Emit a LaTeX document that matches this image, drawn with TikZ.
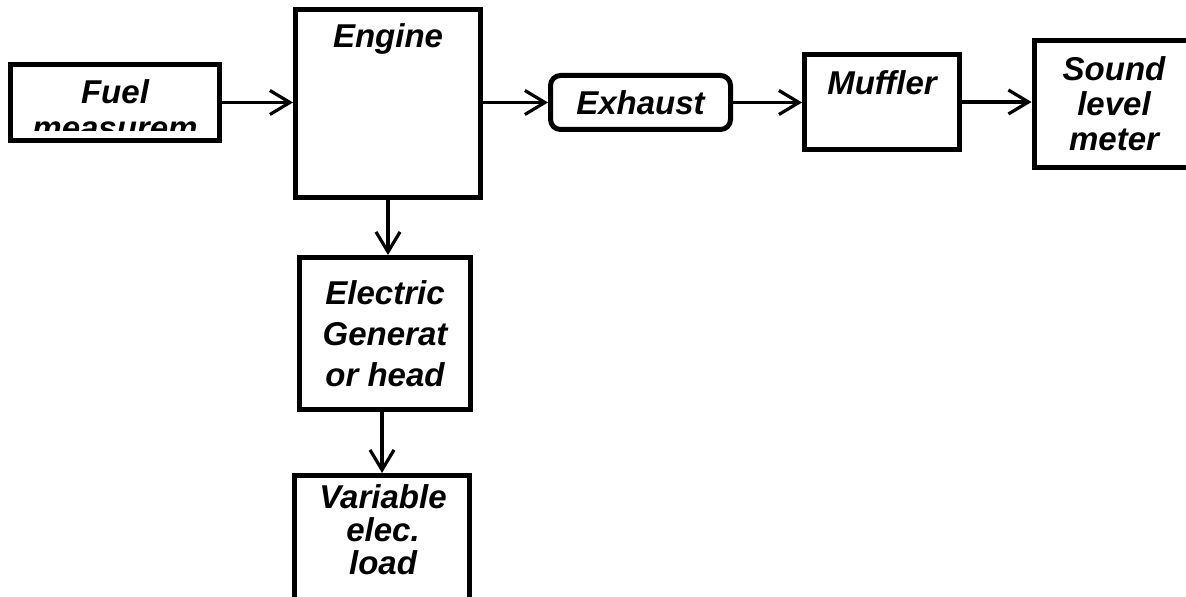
\documentclass[tikz,border=0pt]{standalone}
\usepackage{fontspec}
\setmainfont{Liberation Sans}
\usetikzlibrary{arrows.meta, positioning}

\tikzset{
  blockbox/.style={draw, line width=2.5pt, inner sep=0pt},
  roundbox/.style={blockbox, rounded corners=5pt},
  boxtext/.style={font=\bfseries\itshape\fontsize{16.5pt}{17.5pt}\selectfont, align=center, inner sep=0pt},
  flow/.style={line width=1.6pt, -{Straight Barb[length=10pt,width=12pt]}},
}

\begin{document}
\begin{tikzpicture}[x=0.5pt, y=-0.5pt]
  \useasboundingbox (0,0) rectangle (1186,597);
  \clip (0,0) rectangle (1186,597);

  % top row
  \node[blockbox, minimum width=104.5pt, minimum height=38pt] (fuel) at (115,102.5) {};
  \begin{scope}
    \clip (12,66) rectangle (218,131);
    \node[boxtext, font=\bfseries\itshape\fontsize{16.5pt}{18pt}\selectfont] (fueltext) at (115,110) {Fuel\\measurem};
  \end{scope}
  \node[blockbox, minimum width=92.5pt, minimum height=94pt] (engine) at (388,103.5) {};
  \node[boxtext] (enginetext) at (388,39) {Engine};
  \node[roundbox, boxtext, minimum width=90pt, minimum height=27pt] (exhaust) at (640.5,102.5) {Exhaust};
  \node[blockbox, minimum width=77.5pt, minimum height=47.5pt] (muffler) at (882,102) {};
  \node[boxtext] (mufflertext) at (882,83) {Muffler};
  \node[blockbox, boxtext, minimum width=80pt, minimum height=63.5pt] (meter) at (1114,104) {Sound\\level\\meter};

  % down the engine
  \node[blockbox, boxtext, font=\bfseries\itshape\fontsize{16.5pt}{20.5pt}\selectfont,
        minimum width=85.5pt, minimum height=76pt] (generator) at (385,333.5) {Electric\\Generat\\or head};
  \node[blockbox, minimum width=87.5pt, minimum height=90pt, anchor=north] (load) at (382,473) {};
  \node[boxtext, font=\bfseries\itshape\fontsize{16.5pt}{16.5pt}\selectfont] (loadtext) at (383,530) {Variable\\elec.\\load};

  % connectors
  \draw[flow] (fuel.east) -- (fuel.east -| engine.west);
  \draw[flow] (engine.east |- exhaust.west) -- (exhaust.west);
  \draw[flow] (exhaust.east) -- (exhaust.east -| muffler.west);
  \draw[flow] (muffler.east) -- (muffler.east -| meter.west);
  \draw[flow] (engine.south) -- (engine.south |- generator.north);
  \draw[flow] (generator.south -| load.north) -- (load.north);
\end{tikzpicture}
\end{document}
